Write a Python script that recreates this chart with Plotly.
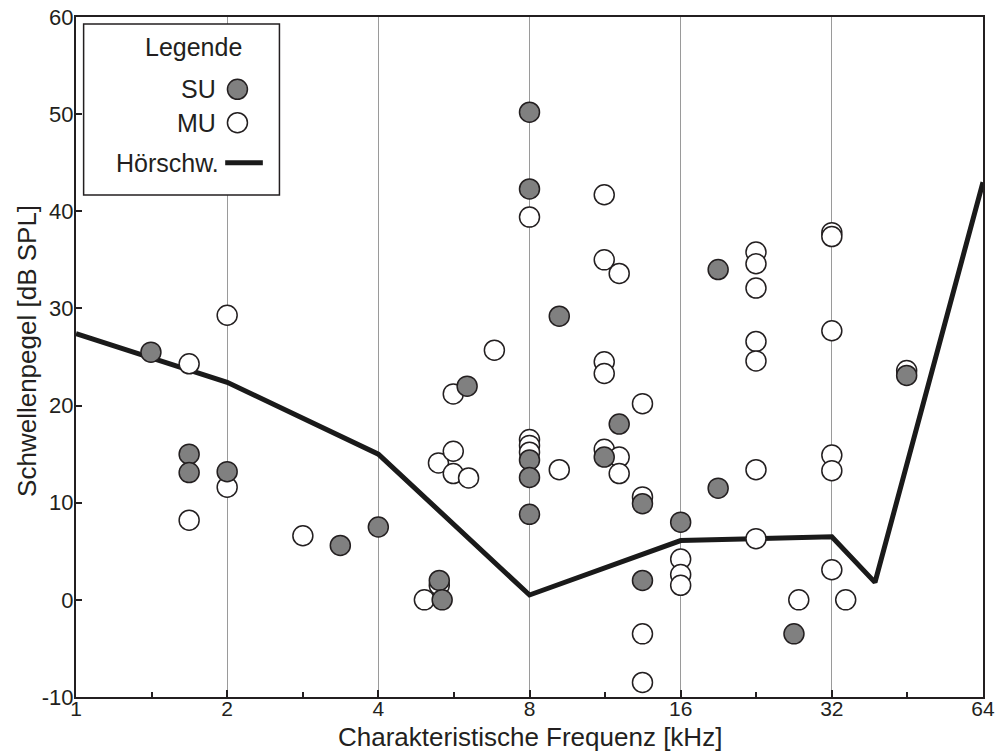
import plotly.graph_objects as go

# Single units (SU): characteristic frequency [kHz] and threshold [dB SPL]
su_freq = [1.41, 1.68, 1.68, 2.0, 3.36, 4.0, 5.29, 5.36, 6.01,
           8.0, 8.0, 8.0, 8.0, 8.0, 9.17, 11.27, 12.07, 13.43, 13.43,
           16.0, 19.0, 19.0, 26.9, 45.1]
su_level = [25.5, 15.0, 13.1, 13.2, 5.6, 7.5, 2.0, 0.0, 22.0,
            50.2, 42.3, 14.4, 12.6, 8.8, 29.2, 14.7, 18.1, 9.9, 2.0,
            8.0, 34.0, 11.5, -3.5, 23.1]

# Multi units (MU)
mu_freq = [1.68, 1.68, 2.0, 2.0, 2.83, 4.94, 5.27, 5.29, 5.64, 5.64, 5.64, 6.05,
           6.81, 8.0, 8.0, 8.0, 8.0, 9.17, 11.27, 11.27, 11.27, 11.27, 11.27,
           12.07, 12.07, 12.07, 13.43, 13.43, 13.43, 13.43,
           16.0, 16.0, 16.0, 22.6, 22.6, 22.6, 22.6, 22.6, 22.6, 22.6,
           27.5, 32.0, 32.0, 32.0, 32.0, 32.0, 32.0, 34.1, 45.1]
mu_level = [24.3, 8.2, 29.3, 11.6, 6.6, 0.0, 14.1, 1.5, 21.2, 15.3, 13.0, 12.55,
            25.7, 39.4, 16.5, 15.9, 15.2, 13.4, 41.7, 35.0, 24.5, 23.3, 15.5,
            33.6, 14.7, 13.0, 20.2, 10.6, -3.5, -8.5,
            4.2, 2.6, 1.5, 35.8, 34.6, 32.1, 26.6, 24.6, 13.4, 6.3,
            0.0, 37.8, 37.4, 27.7, 14.9, 13.3, 3.1, 0.0, 23.6]

# Behavioural hearing threshold (Hörschwelle)
hs_freq = [1, 2, 4, 8, 16, 32, 39, 64]
hs_level = [27.4, 22.4, 15.0, 0.5, 6.1, 6.5, 1.8, 43.0]

# Axis ticks
x_ticks = [1, 2, 4, 8, 16, 32, 64]
x_ticktext = ["1", "2", "4", "8", "16", "32", "64"]
x_minor = [1.414, 2.828, 5.657, 11.31, 22.63, 45.25]
y_ticks = [-10, 0, 10, 20, 30, 40, 50, 60]
y_ticktext = ["-10", "0", "10", "20", "30", "40", "50", "60"]

FONT = "Liberation Sans, Arial, Helvetica, sans-serif"
INK = "#231f20"
SU_FILL = "#808080"

fig = go.Figure()

fig.add_trace(go.Scatter(
    x=hs_freq, y=hs_level, mode="lines",
    line=dict(color="#1a1a1a", width=5),
    showlegend=False, hoverinfo="skip"))

fig.add_trace(go.Scatter(
    x=mu_freq, y=mu_level, mode="markers",
    marker=dict(size=20, color="white", line=dict(color=INK, width=1.5)),
    showlegend=False))

fig.add_trace(go.Scatter(
    x=su_freq, y=su_level, mode="markers",
    marker=dict(size=20, color=SU_FILL, line=dict(color=INK, width=1.5)),
    showlegend=False))

fig.update_xaxes(
    type="log", range=[0, 1.80618],
    tickmode="array", tickvals=x_ticks, ticktext=x_ticktext,
    ticks="inside", ticklen=7, tickwidth=1.5, tickcolor=INK,
    ticklabelstandoff=-8,
    minor=dict(tickmode="array", tickvals=x_minor, ticks="inside",
               ticklen=5, tickwidth=1.5, tickcolor=INK, showgrid=False),
    showgrid=True, gridcolor="#9a9a9a", gridwidth=1,
    showline=True, linecolor=INK, linewidth=2, mirror=True,
    tickfont=dict(family=FONT, size=21, color=INK),
    zeroline=False)

fig.update_yaxes(
    range=[-10, 60], tickmode="array", tickvals=y_ticks, ticktext=y_ticktext,
    ticks="inside", ticklen=6, tickwidth=1.5, tickcolor=INK,
    ticklabelstandoff=-4,
    showgrid=False, zeroline=False,
    showline=True, linecolor=INK, linewidth=2, mirror=True,
    tickfont=dict(family=FONT, size=22, color=INK))

# Axis titles
fig.add_annotation(text="Charakteristische Frequenz [kHz]", xref="paper", yref="paper",
                   x=0.5, y=-0.059, xanchor="center", yanchor="middle", showarrow=False,
                   font=dict(family=FONT, size=26, color=INK))
fig.add_annotation(text="Schwellenpegel [dB SPL]", xref="paper", yref="paper",
                   x=-0.054, y=0.509, xanchor="center", yanchor="middle", showarrow=False,
                   textangle=-90, font=dict(family=FONT, size=26, color=INK))

# Legend box
fig.add_shape(type="rect", xref="paper", yref="paper",
              x0=0.0084, x1=0.2243, y0=0.7382, y1=0.9897,
              line=dict(color=INK, width=1.5), fillcolor="white", layer="above")
fig.add_annotation(text="Legende", xref="paper", yref="paper", x=0.1293, y=0.9563,
                   xanchor="center", yanchor="middle", showarrow=False,
                   font=dict(family=FONT, size=25, color=INK))
legend_rows = [("SU", 0.8937, SU_FILL), ("MU", 0.8446, "white")]
for label, ypos, fill in legend_rows:
    fig.add_annotation(text=label, xref="paper", yref="paper", x=0.1565, y=ypos,
                       xanchor="right", yanchor="middle", showarrow=False,
                       font=dict(family=FONT, size=25, color=INK))
    fig.add_shape(type="circle", xref="paper", yref="paper",
                  xsizemode="pixel", ysizemode="pixel",
                  xanchor=0.178, yanchor=ypos, x0=-10, x1=10, y0=-10, y1=10,
                  fillcolor=fill, line=dict(color=INK, width=1.5), layer="above")
fig.add_annotation(text="Hörschw.", xref="paper", yref="paper", x=0.1595, y=0.7857,
                   xanchor="right", yanchor="middle", showarrow=False,
                   font=dict(family=FONT, size=25, color=INK))
fig.add_shape(type="line", xref="paper", yref="paper",
              x0=0.1645, x1=0.2060, y0=0.7857, y1=0.7857,
              line=dict(color="#1a1a1a", width=5), layer="above")

fig.update_layout(
    width=997, height=753,
    margin=dict(l=75.7, r=13.5, t=17, b=56, autoexpand=False),
    paper_bgcolor="white", plot_bgcolor="white",
    font=dict(family=FONT, color=INK),
    showlegend=False)

fig.write_html("out.html")
